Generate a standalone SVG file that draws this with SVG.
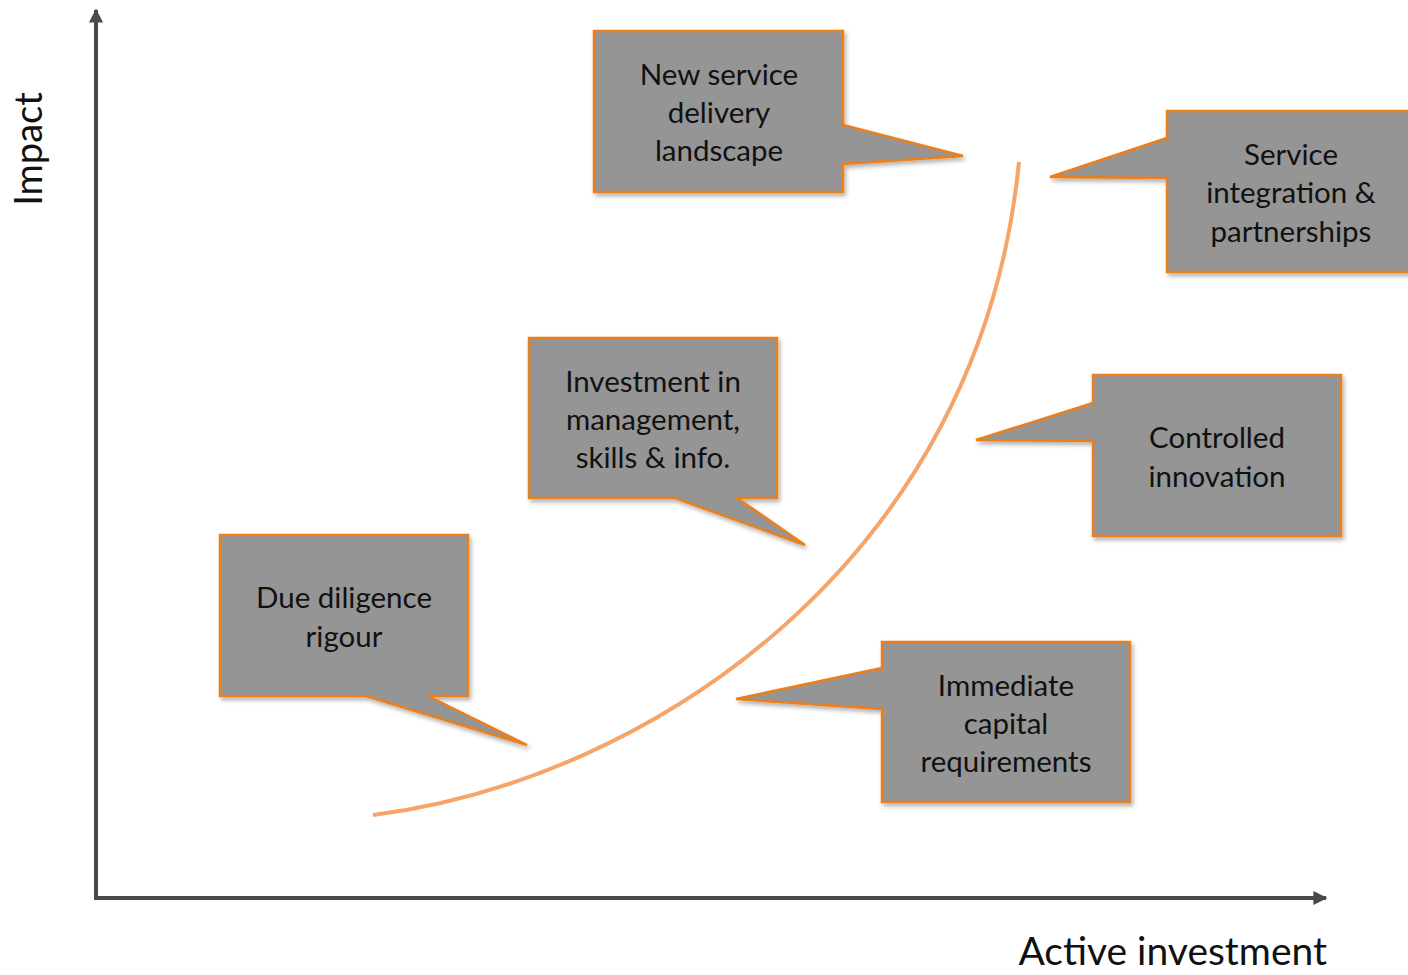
<svg xmlns="http://www.w3.org/2000/svg" width="1408" height="975" viewBox="0 0 1408 975">
<style>
.box{fill:#959595;stroke:#EB7F1F;stroke-width:2.5;stroke-linejoin:miter;filter:url(#sh)}
.t{font-family:Lato,"Open Sans","Liberation Sans",sans-serif;font-size:29.5px;fill:#111;text-anchor:middle}
.ax{stroke:#4a4a4a;stroke-width:4;fill:none}
.lab{font-family:Lato,"Open Sans","Liberation Sans",sans-serif;fill:#111}
</style>
<defs>
<filter id="sh" x="-10%" y="-10%" width="130%" height="130%">
<feDropShadow dx="2" dy="3" stdDeviation="2" flood-color="#000" flood-opacity="0.3"/>
</filter>
<marker id="ah" viewBox="0 0 10 10" refX="9" refY="5" markerWidth="3.5" markerHeight="3.5" orient="auto" markerUnits="strokeWidth">
<path d="M0,0 L10,5 L0,10 Z" fill="#4a4a4a"/>
</marker>
</defs>
<g id="connectors">
<line class="ax" x1="96" y1="898" x2="96" y2="10" marker-end="url(#ah)"/>
<line class="ax" x1="94" y1="898" x2="1326" y2="898" marker-end="url(#ah)"/>
<path d="M373,815 C650,780 980,560 1019,162" fill="none" stroke="#F5A46A" stroke-width="4"/>
</g>
<text class="lab" font-size="38" transform="translate(42,149) rotate(-90)" text-anchor="middle">Impact</text>
<text class="lab" font-size="39" x="1327" y="965" text-anchor="end">Active investment</text>
<g id="n1">
<path class="box" d="M594,31 H843 V125 L963,156 L843,164 V192 H594 Z"/>
<text class="t" x="719" y="85">New service</text>
<text class="t" x="719" y="123">delivery</text>
<text class="t" x="719" y="161">landscape</text>
</g>
<g id="n2">
<path class="box" d="M1167,111 H1412 V272 H1167 V178 L1050,177 L1167,138 Z"/>
<text class="t" x="1291" y="165">Service</text>
<text class="t" x="1291" y="203">integration &amp;</text>
<text class="t" x="1291" y="242">partnerships</text>
</g>
<g id="n3">
<path class="box" d="M529,338 H777 V498 H737 L805,545 L675,498 H529 Z"/>
<text class="t" x="653" y="392">Investment in</text>
<text class="t" x="653" y="430">management,</text>
<text class="t" x="653" y="468">skills &amp; info.</text>
</g>
<g id="n4">
<path class="box" d="M1093,375 H1341 V536 H1093 V441 L976,440 L1093,403 Z"/>
<text class="t" x="1217" y="448">Controlled</text>
<text class="t" x="1217" y="487">innovation</text>
</g>
<g id="n5">
<path class="box" d="M220,535 H468 V696 H428 L527,745 L366,696 H220 Z"/>
<text class="t" x="344" y="608">Due diligence</text>
<text class="t" x="344" y="647">rigour</text>
</g>
<g id="n6">
<path class="box" d="M882,642 H1130 V802 H882 V709 L736,699 L882,668 Z"/>
<text class="t" x="1006" y="696">Immediate</text>
<text class="t" x="1006" y="734">capital</text>
<text class="t" x="1006" y="772">requirements</text>
</g>
</svg>
